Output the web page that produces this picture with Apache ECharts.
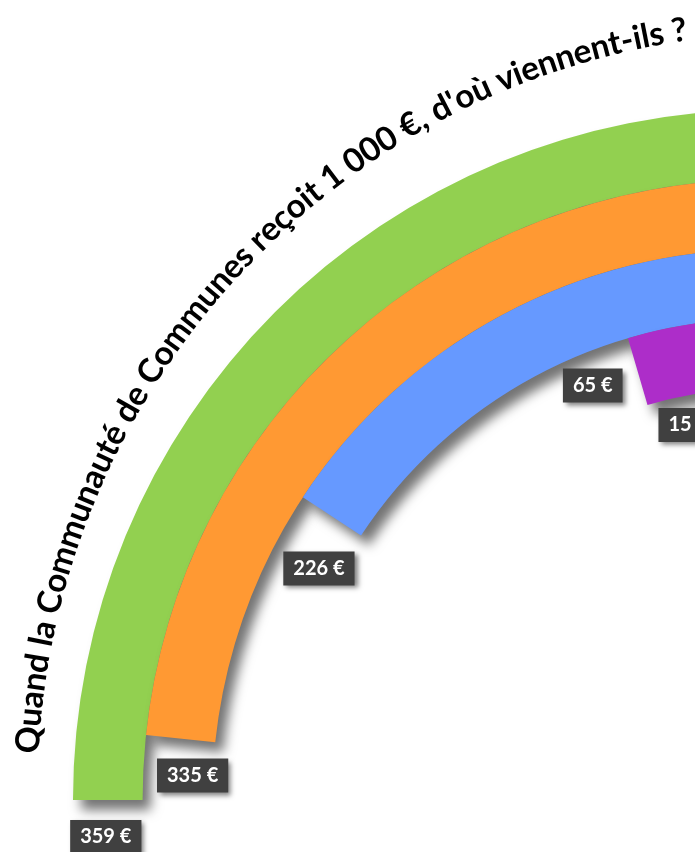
<!DOCTYPE html>
<html>
<head>
<meta charset="utf-8">
<script src="https://cdn.jsdelivr.net/npm/echarts@6/dist/echarts.min.js"></script>
<style>html,body{margin:0;padding:0;background:#fff}#c{width:695px;height:852px}</style>
</head>
<body>
<div id="c"></div>
<script>
// ---- data ----
const categories = ['Source 1', 'Source 2', 'Source 3', 'Source 4', 'Source 5'];
const values = [359, 335, 226, 65, 15];
const unit = ' €';
const titleText = "Quand la Communauté de Communes reçoit 1 000 €, d'où viennent-ils ?";

// ---- styles / layout ----
const colors = ['#92D050', '#FF9933', '#6699FF', '#AD2DC9', '#E8312A'];
const labelOffsets = [[-2, 37], [12, 37], [-13, 52], [-45, 14], [-50, 1]];
const FONT = 'Lato';

// title laid out along an arc
const ctx = document.createElement('canvas').getContext('2d');
const tc = [795, 790], rBase = 758, a0 = 177.25 * Math.PI / 180, a1 = 98.1 * Math.PI / 180;
const span = a0 - a1;
let fs = 33;
ctx.font = 'bold ' + fs + 'px ' + FONT;
const W0 = ctx.measureText(titleText).width;
fs = fs * span * (rBase + 10) / W0;
ctx.font = 'bold ' + fs + 'px ' + FONT;
const chars = Array.from(titleText);
const widths = chars.map(ch => ctx.measureText(ch).width);
const total = widths.reduce((a, b) => a + b, 0);
const rMid = rBase + 0.3 * fs;
let acc = 0;
const titleEls = chars.map((ch, i) => {
  const mid = acc + widths[i] / 2;
  acc += widths[i];
  const th = a0 - (mid / total) * span;
  return {
    type: 'text',
    x: tc[0] + rMid * Math.cos(th),
    y: tc[1] - rMid * Math.sin(th),
    rotation: th - Math.PI / 2,
    silent: true,
    style: {
      text: ch,
      fill: '#000',
      font: 'bold ' + fs.toFixed(2) + 'px ' + FONT,
      align: 'center', verticalAlign: 'middle',
      textAlign: 'center', textVerticalAlign: 'middle'
    }
  };
});

const chart = echarts.init(document.getElementById('c'), null, {renderer: 'canvas'});
chart.setOption({
  backgroundColor: '#ffffff',
  animation: false,
  polar: {center: [763, 800], radius: [342, 690]},
  angleAxis: {type: 'value', min: 0, max: 1436, startAngle: 90, clockwise: false, show: false},
  radiusAxis: {type: 'category', data: categories, inverse: true, show: false},
  series: [
    {
      type: 'bar',
      coordinateSystem: 'polar',
      barCategoryGap: '0%',
      data: values.map((v, i) => ({value: v, itemStyle: {color: colors[i]}})),
      itemStyle: {
        shadowBlur: 12, shadowColor: 'rgba(0,0,0,0.55)', shadowOffsetX: 8, shadowOffsetY: 10
      }
    },
    {
      type: 'scatter',
      coordinateSystem: 'polar',
      symbolSize: 1,
      itemStyle: {color: 'rgba(0,0,0,0)', opacity: 1},
      z: 5,
      data: categories.map((c, i) => ({value: [c, values[i]], label: {offset: labelOffsets[i]}})),
      label: {
        show: true,
        position: 'inside',
        formatter: p => values[p.dataIndex] + unit,
        color: '#ffffff',
        opacity: 1,
        fontFamily: FONT,
        fontWeight: 'bold',
        fontSize: 20,
        lineHeight: 21,
        backgroundColor: '#404040',
        padding: [7, 10, 6, 10],
        shadowBlur: 5, shadowColor: 'rgba(0,0,0,0.5)', shadowOffsetX: 3, shadowOffsetY: 3
      }
    }
  ],
  graphic: {elements: titleEls}
});
</script>
</body>
</html>
